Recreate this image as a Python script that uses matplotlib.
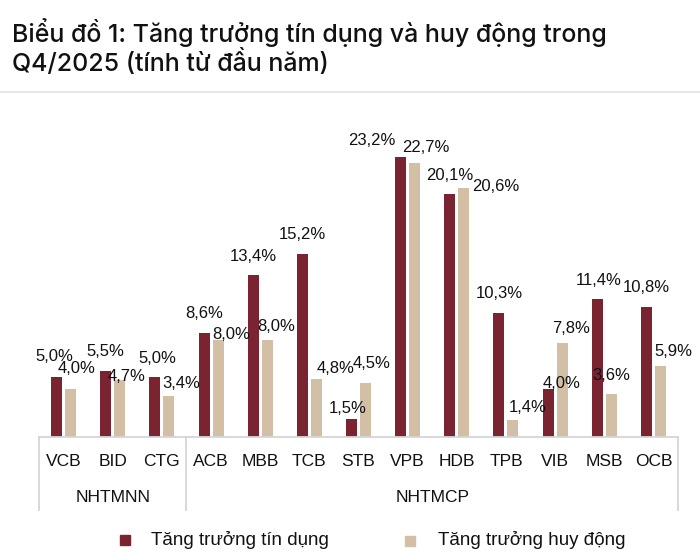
import matplotlib
matplotlib.use('Agg')
import matplotlib.pyplot as plt
from matplotlib.patches import Rectangle

banks = ['VCB', 'BID', 'CTG', 'ACB', 'MBB', 'TCB', 'STB', 'VPB', 'HDB', 'TPB', 'VIB', 'MSB', 'OCB']
credit = [5.0, 5.5, 5.0, 8.6, 13.4, 15.2, 1.5, 23.2, 20.1, 10.3, 4.0, 11.4, 10.8]
deposit = [4.0, 4.7, 3.4, 8.0, 8.0, 4.8, 4.5, 22.7, 20.6, 1.4, 7.8, 3.6, 5.9]
groups = ['NHTMNN', 'NHTMCP']
group_span = [(0, 2), (3, 12)]

# label offsets in pixels (dx, dy) from bar top, hand placed like the source
credit_off = [(-2, 20), (0, 19), (2, 18), (0, 20), (0, 19), (0, 19), (-4, 10), (-29, 16),
              (0, 19), (0, 19), (13, 5), (1, 19), (0, 19)]
deposit_off = [(6, 20), (7, 4), (12, 12), (13, 6), (9, 14), (19, 11), (6, 19), (11, 16),
               (32, 2), (15, 13), (9, 14), (0, 18), (13, 14)]

dark = '#7A2432'
light = '#D3BFA6'
grey = '#D6D6D6'
font = ['Liberation Sans', 'DejaVu Sans']

fig = plt.figure(figsize=(7, 5.6), dpi=100)
ax = fig.add_axes([39 / 700, 123 / 560, 639 / 700, 301.75 / 560])

x = list(range(len(banks)))
w = 0.224
off = 0.142
ax.bar([i - off for i in x], credit, width=w, color=dark)
ax.bar([i + off for i in x], deposit, width=w, color=light)

for i in x:
    ax.annotate(f'{credit[i]:.1f}%'.replace('.', ','), (i - off, credit[i]),
                xytext=credit_off[i], textcoords='offset pixels',
                ha='center', va='center', fontsize=12, family=font, color='#111111')
    ax.annotate(f'{deposit[i]:.1f}%'.replace('.', ','), (i + off, deposit[i]),
                xytext=deposit_off[i], textcoords='offset pixels',
                ha='center', va='center', fontsize=12, family=font, color='#111111')
    ax.annotate(banks[i], (i, 0), xycoords=('data', 'axes fraction'),
                xytext=(0, -25), textcoords='offset pixels',
                ha='center', va='center', fontsize=12.5, family=font, color='#111111')

for name, (a, b) in zip(groups, group_span):
    ax.annotate(name, ((a + b) / 2, 0), xycoords=('data', 'axes fraction'),
                xytext=(0, -60), textcoords='offset pixels',
                ha='center', va='center', fontsize=12.5, family=font, color='#111111')

for xs in [-0.5, 2.5, 12.5]:
    ax.plot([xs, xs], [0, -0.242], transform=ax.get_xaxis_transform(),
            color=grey, lw=1.3, clip_on=False)

ax.set_xlim(-0.5, 12.5)
ax.set_ylim(0, 25)
for s in ['top', 'right', 'left']:
    ax.spines[s].set_visible(False)
ax.spines['bottom'].set_color(grey)
ax.spines['bottom'].set_linewidth(1.3)
ax.set_xticks([])
ax.set_yticks([])

# title and separator
fig.text(12 / 700, 1 - 33 / 560, 'Biểu đồ 1: Tăng trưởng tín dụng và huy động trong',
         fontsize=18, family=['Inter', 'DejaVu Sans'], weight='medium',
         va='center', ha='left', color='#111111')
fig.text(12 / 700, 1 - 63 / 560, 'Q4/2025 (tính từ đầu năm)',
         fontsize=18, family=['Inter', 'DejaVu Sans'], weight='medium',
         va='center', ha='left', color='#111111')
fig.add_artist(plt.Line2D([0, 1], [1 - 92 / 560, 1 - 92 / 560], color='#E8E8E8', lw=1.5))

# legend
fig.add_artist(Rectangle((120 / 700, 1 - 545 / 560), 10 / 700, 10 / 560, color=dark))
fig.text(151 / 700, 1 - 540 / 560, 'Tăng trưởng tín dụng', fontsize=13.5, family=font,
         va='center', ha='left', color='#111111')
fig.add_artist(Rectangle((405 / 700, 1 - 546 / 560), 10 / 700, 10 / 560, color=light))
fig.text(438 / 700, 1 - 540 / 560, 'Tăng trưởng huy động', fontsize=13.5, family=font,
         va='center', ha='left', color='#111111')

fig.savefig('out.png', dpi=100)
